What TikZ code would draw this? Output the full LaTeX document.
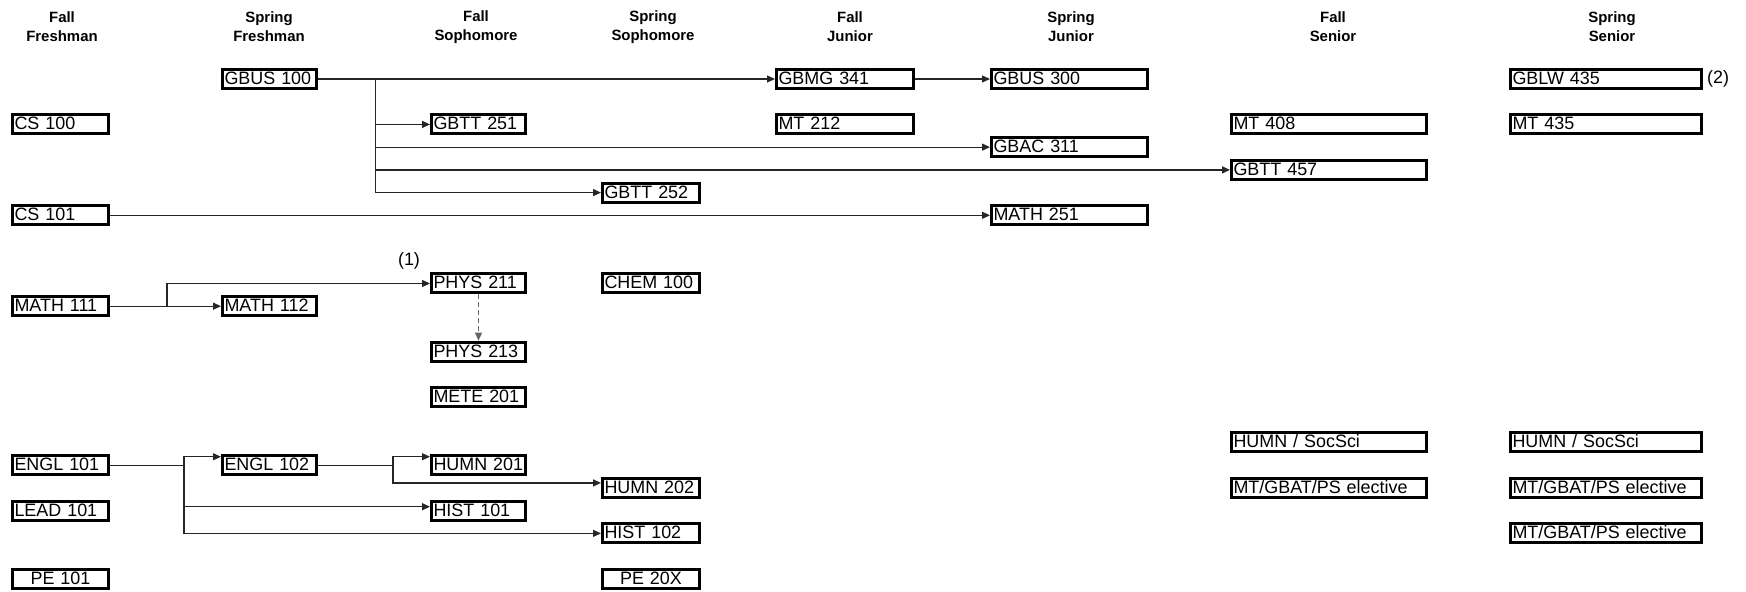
\documentclass[tikz,border=0pt]{standalone}
\usepackage{fontspec}
\setmainfont{Liberation Sans}
\usepackage{tikz}
\usetikzlibrary{arrows.meta}
\usepackage{xcolor}

\begin{document}
\begin{tikzpicture}[>={Triangle[length=1.6mm,width=1.4mm]},
  course/.style={draw,line width=1.7pt,minimum height=0.38cm,inner xsep=0.04cm,inner ysep=0pt,
    text width=#1,align=left,text height=0.25cm,text depth=0.03cm,font=\fontsize{10.2}{12}\selectfont},
  pecourse/.style={course=#1,align=center},
  sem/.style={align=center,font=\fontsize{8.5}{10.8}\selectfont\bfseries},
  link/.style={black!85,line width=0.7pt},
  note/.style={font=\fontsize{10.2}{12}\selectfont}]
\useasboundingbox (0,0) rectangle (34.92,11.84);
\node[sem] (s1) at (1.24,11.30) {Fall\\Freshman};
\node[sem] (s2) at (5.38,11.30) {Spring\\Freshman};
\node[sem] (s3) at (9.52,11.30) {Fall\\Sophomore};
\node[sem] (s4) at (13.06,11.30) {Spring\\Sophomore};
\node[sem] (s5) at (17.00,11.30) {Fall\\Junior};
\node[sem] (s6) at (21.42,11.30) {Spring\\Junior};
\node[sem] (s7) at (26.66,11.30) {Fall\\Senior};
\node[sem] (s8) at (32.24,11.30) {Spring\\Senior};
\node[course=1.80cm] (gbus100) at (5.39,10.260) {GBUS 100};
\node[course=2.66cm] (gbmg341) at (16.90,10.260) {GBMG 341};
\node[course=3.04cm] (gbus300) at (21.39,10.260) {GBUS 300};
\node[course=3.74cm] (gblw435) at (32.12,10.260) {GBLW 435};
\node[note] (n2) at (34.36,10.260) {(2)};
\node[course=1.84cm] (cs100) at (1.21,9.351) {CS 100};
\node[course=1.80cm] (gbtt251) at (9.57,9.351) {GBTT 251};
\node[course=2.66cm] (mt212) at (16.90,9.351) {MT 212};
\node[course=3.82cm] (mt408) at (26.58,9.351) {MT 408};
\node[course=3.74cm] (mt435) at (32.12,9.351) {MT 435};
\node[course=3.04cm] (gbac311) at (21.39,8.897) {GBAC 311};
\node[course=3.82cm] (gbtt457) at (26.58,8.442) {GBTT 457};
\node[course=1.86cm] (gbtt252) at (13.02,7.988) {GBTT 252};
\node[course=1.84cm] (cs101) at (1.21,7.534) {CS 101};
\node[course=3.04cm] (math251) at (21.39,7.534) {MATH 251};
\node[note] (n1) at (8.18,6.620) {(1)};
\node[course=1.80cm] (phys211) at (9.57,6.170) {PHYS 211};
\node[course=1.86cm] (chem100) at (13.02,6.170) {CHEM 100};
\node[course=1.84cm] (math111) at (1.21,5.716) {MATH 111};
\node[course=1.80cm] (math112) at (5.39,5.716) {MATH 112};
\node[course=1.80cm] (phys213) at (9.57,4.807) {PHYS 213};
\node[course=1.80cm] (mete201) at (9.57,3.898) {METE 201};
\node[course=3.82cm] (hs7) at (26.58,2.990) {HUMN / SocSci};
\node[course=3.74cm] (hs8) at (32.12,2.990) {HUMN / SocSci};
\node[course=1.84cm] (engl101) at (1.21,2.535) {ENGL 101};
\node[course=1.80cm] (engl102) at (5.39,2.535) {ENGL 102};
\node[course=1.80cm] (humn201) at (9.57,2.535) {HUMN 201};
\node[course=1.86cm] (humn202) at (13.02,2.081) {HUMN 202};
\node[course=3.82cm] (el7) at (26.58,2.081) {MT/GBAT/PS elective};
\node[course=3.74cm] (el8a) at (32.12,2.081) {MT/GBAT/PS elective};
\node[course=1.84cm] (lead101) at (1.21,1.626) {LEAD 101};
\node[course=1.80cm] (hist101) at (9.57,1.626) {HIST 101};
\node[course=1.86cm] (hist102) at (13.02,1.172) {HIST 102};
\node[course=3.74cm] (el8b) at (32.12,1.172) {MT/GBAT/PS elective};
\node[pecourse=1.84cm] (pe101) at (1.21,0.263) {PE 101};
\node[pecourse=1.86cm] (pe20x) at (13.02,0.263) {PE 20X};
\coordinate (gb) at (7.514,10.260);
\coordinate (mb) at (3.340,5.716);
\coordinate (eb) at (3.680,2.535);
\coordinate (hb) at (7.860,2.535);
\draw[link,->] (gbus100.east) -- (gbmg341.west);
\draw[link,->] (gb) |- (gbtt251.west);
\draw[link,->] (gb) |- (gbac311.west);
\draw[link,->] (gb) |- (gbtt457.west);
\draw[link,->] (gb) |- (gbtt252.west);
\draw[link,->] (gbmg341.east) -- (gbus300.west);
\draw[link,->] (cs101.east) -- (math251.west);
\draw[link,->] (math111.east) -- (math112.west);
\draw[link,->] (mb) |- (phys211.west);
\draw[link,->,black!60,dash pattern=on 2.5pt off 2pt] (phys211.south) -- (phys213.north);
\draw[link] (engl101.east) -- (eb);
\draw[link,->] (eb) |- ([yshift=0.17cm]engl102.west);
\draw[link,->] (eb) |- ([yshift=0.08cm]hist101.west);
\draw[link,->] (eb) |- (hist102.west);
\draw[link] (engl102.east) -- (hb);
\draw[link,->] (hb) |- ([yshift=0.17cm]humn201.west);
\draw[link,->] (hb) |- ([yshift=0.1cm]humn202.west);
\end{tikzpicture}
\end{document}
